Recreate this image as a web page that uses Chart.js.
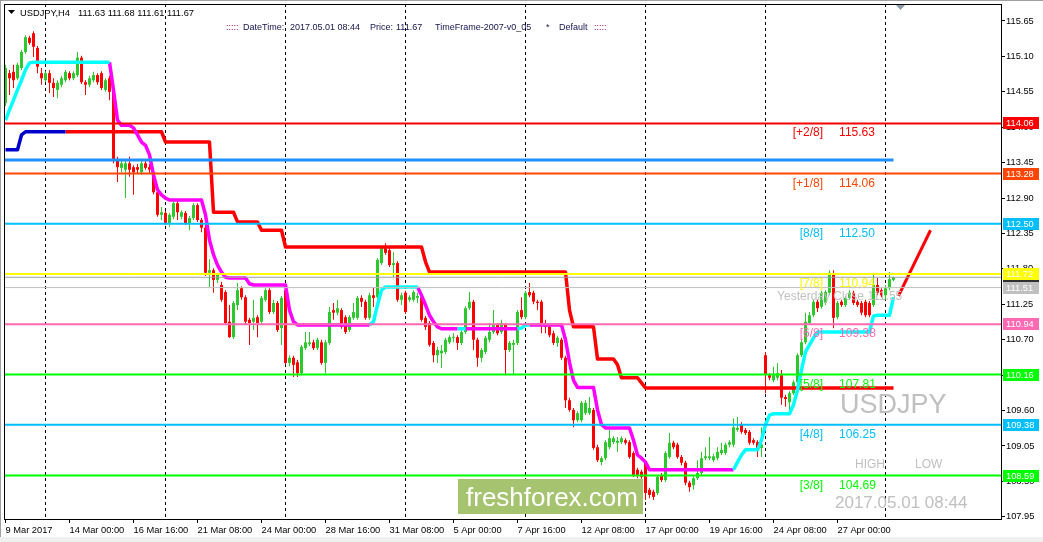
<!DOCTYPE html>
<html><head><meta charset="utf-8">
<script src="https://cdn.jsdelivr.net/npm/chart.js@4.4.1/dist/chart.umd.min.js"></script>
<style>html,body{margin:0;padding:0;background:#fff;overflow:hidden}canvas{display:block}</style>
</head><body>
<canvas id="c" width="1043" height="542"></canvas>
<script>
const _ = null;
// H4 candles USDJPY: [open, high, low, close], bar 0 = 9 Mar 2017 08:00
const ohlc = [
[114.38,114.97,114.33,114.92],[114.84,114.89,114.50,114.76],[114.86,114.97,114.61,114.73],[114.76,115.00,114.73,114.97],[114.92,115.20,114.89,115.17],
[115.17,115.43,115.14,115.40],[115.39,115.42,115.28,115.31],[115.46,115.49,115.09,115.25],[115.23,115.26,114.84,114.94],[114.84,114.92,114.66,114.76],
[114.73,114.87,114.70,114.84],[114.84,114.89,114.53,114.69],[114.69,114.76,114.47,114.61],[114.58,114.73,114.45,114.69],[114.66,114.80,114.62,114.76],
[114.73,114.89,114.70,114.86],[114.84,114.87,114.73,114.76],[114.76,114.87,114.73,114.84],[114.81,115.17,114.78,115.08],[115.08,115.11,114.67,114.70],
[114.70,114.73,114.50,114.66],[114.66,114.80,114.62,114.76],[114.73,114.86,114.70,114.81],[114.81,114.84,114.66,114.70],[114.84,114.87,114.58,114.61],
[114.58,114.76,114.55,114.73],[114.76,114.80,114.42,114.55],[114.58,114.61,113.44,113.49],[113.49,113.54,113.15,113.38],[113.37,113.49,113.30,113.44],
[113.34,113.49,112.90,113.44],[113.44,113.54,113.23,113.34],[113.38,113.41,112.95,113.30],[113.38,113.43,113.29,113.34],[113.30,113.49,113.26,113.44],
[113.44,113.49,113.34,113.37],[113.38,113.43,113.29,113.34],[113.30,113.34,112.96,112.99],[112.99,113.03,112.61,112.64],[112.64,112.76,112.56,112.68],
[112.67,112.70,112.48,112.51],[112.51,112.67,112.45,112.64],[112.61,112.87,112.57,112.82],[112.82,112.87,112.56,112.68],[112.61,112.71,112.57,112.68],
[112.67,112.70,112.48,112.51],[112.51,112.62,112.40,112.59],[112.59,112.82,112.56,112.79],[112.79,112.82,112.53,112.56],[112.56,112.59,112.37,112.44],
[112.44,112.48,111.69,111.74],[111.74,111.95,111.52,111.78],[111.78,111.81,111.43,111.63],[111.63,111.74,111.58,111.71],[111.55,111.60,111.29,111.32],
[111.44,111.47,110.93,110.96],[110.98,111.24,110.73,110.74],[110.74,111.30,110.71,111.27],[111.24,111.58,111.16,111.47],[111.50,111.53,111.32,111.36],
[111.36,111.39,110.94,110.98],[111.01,111.04,110.62,110.96],[110.98,111.32,110.85,111.04],[111.05,111.08,110.74,110.96],[110.98,111.38,110.94,111.35],
[111.32,111.50,111.29,111.47],[111.47,111.50,111.10,111.13],[111.13,111.32,111.10,111.27],[111.27,111.30,110.82,110.85],[110.88,111.38,110.62,111.35],
[111.47,111.52,110.31,110.34],[110.34,110.46,110.29,110.42],[110.42,110.45,110.12,110.31],[110.35,110.39,110.12,110.18],[110.18,110.62,110.15,110.59],
[110.57,110.82,110.54,110.66],[110.63,110.82,110.60,110.66],[110.66,110.70,110.54,110.57],[110.57,110.73,110.54,110.70],[110.66,110.70,110.31,110.34],
[110.34,110.70,110.18,110.66],[110.65,111.21,110.62,111.13],[111.16,111.27,111.01,111.12],[111.12,111.32,111.08,111.19],[111.16,111.19,110.87,110.90],
[111.05,111.08,110.79,110.82],[110.85,111.08,110.82,111.05],[111.04,111.27,111.01,111.13],[111.04,111.38,111.01,111.35],[111.35,111.39,111.21,111.29],
[111.29,111.32,111.01,111.04],[111.04,111.43,111.01,111.39],[111.39,111.52,111.21,111.35],[111.36,111.97,111.33,111.94],[111.89,112.16,111.86,112.12],
[112.12,112.20,112.02,112.05],[112.09,112.12,111.83,111.86],[111.86,112.06,111.67,111.89],[111.89,111.92,111.29,111.32],[111.32,111.43,111.24,111.39],
[111.43,111.46,111.10,111.13],[111.32,111.39,111.29,111.36],[111.32,111.47,111.29,111.44],[111.35,111.43,111.27,111.38],[111.36,111.39,110.98,111.01],
[111.04,111.07,110.85,110.90],[110.96,110.99,110.59,110.62],[110.65,110.68,110.35,110.46],[110.46,110.59,110.34,110.54],[110.49,110.62,110.26,110.53],
[110.51,110.73,110.48,110.70],[110.66,110.77,110.63,110.74],[110.73,110.80,110.66,110.74],[110.74,110.77,110.54,110.65],[110.65,110.85,110.62,110.82],
[110.82,111.22,110.79,111.19],[111.19,111.44,111.16,111.29],[111.29,111.32,110.54,110.70],[110.70,110.73,110.28,110.42],[110.42,110.57,110.35,110.54],
[110.51,110.76,110.48,110.73],[110.70,110.96,110.66,110.82],[110.82,111.16,110.79,110.93],[110.93,110.96,110.77,110.80],[110.82,111.01,110.79,110.96],
[110.93,110.96,110.15,110.54],[110.54,110.68,110.51,110.65],[110.62,110.70,110.15,110.65],[110.65,111.16,110.62,111.13],[111.16,111.36,111.02,111.05],
[111.05,111.46,111.02,111.43],[111.44,111.58,111.36,111.39],[111.43,111.46,111.25,111.29],[111.29,111.32,111.16,111.27],[111.29,111.32,110.80,110.96],
[110.93,111.01,110.80,110.90],[110.90,110.93,110.74,110.77],[110.80,110.84,110.62,110.65],[110.65,110.76,110.59,110.73],[110.70,110.73,110.39,110.42],
[110.42,110.45,109.64,109.76],[109.76,109.80,109.58,109.61],[109.61,109.64,109.34,109.45],[109.45,109.59,109.42,109.56],[109.45,109.75,109.42,109.72],
[109.56,109.76,109.53,109.72],[109.56,109.81,109.53,109.64],[109.61,109.64,108.99,109.02],[109.03,109.07,108.80,108.83],[108.80,108.89,108.75,108.86],
[108.86,109.14,108.83,109.11],[109.03,109.30,109.00,109.17],[109.11,109.20,109.08,109.17],[109.10,109.19,108.96,109.13],[109.11,109.20,109.08,109.17],
[109.14,109.17,109.07,109.10],[109.11,109.14,108.85,108.88],[108.94,108.97,108.57,108.60],[108.68,108.71,108.55,108.60],[108.65,108.68,108.54,108.57],
[108.79,108.82,108.21,108.32],[108.37,108.40,108.24,108.29],[108.34,108.37,108.21,108.26],[108.32,108.60,108.29,108.57],[108.60,108.63,108.49,108.52],
[108.52,108.97,108.49,108.94],[108.88,109.25,108.85,109.10],[109.10,109.13,109.00,109.03],[109.07,109.10,108.85,108.88],[108.88,108.91,108.75,108.79],
[108.79,108.82,108.44,108.48],[108.48,108.51,108.34,108.41],[108.44,108.58,108.37,108.55],[108.55,108.83,108.52,108.63],[108.63,108.96,108.60,108.86],
[108.86,109.03,108.83,108.89],[108.86,109.19,108.83,108.89],[108.83,108.93,108.80,108.89],[108.86,109.03,108.83,108.96],[108.94,109.10,108.91,108.99],
[108.94,109.10,108.91,109.07],[109.07,109.14,109.03,109.11],[109.07,109.48,109.03,109.34],[109.30,109.50,109.27,109.33],[109.38,109.42,109.24,109.27],
[109.30,109.33,109.22,109.25],[109.27,109.30,109.07,109.10],[109.14,109.17,109.07,109.10],[109.11,109.14,108.88,109.02],[109.02,109.34,108.88,109.07],
[110.46,110.51,109.87,110.15],[110.15,110.18,110.07,110.11],[110.07,110.28,110.04,110.15],[110.11,110.34,110.07,110.18],[110.15,110.23,109.69,109.80],
[109.81,109.84,109.66,109.78],[109.73,109.90,109.61,109.87],[109.87,110.07,109.84,110.04],[110.04,110.49,110.01,110.46],[110.46,110.70,110.43,110.66],
[110.66,111.12,110.63,110.98],[110.96,111.13,110.93,111.08],[111.08,111.32,111.05,111.29],[111.29,111.32,111.13,111.19],[111.21,111.46,111.18,111.43],
[111.27,111.47,111.24,111.44],[111.43,111.78,111.39,111.74],[111.71,111.78,110.88,111.04],[111.05,111.30,111.02,111.27],[111.29,111.32,111.21,111.24],
[111.24,111.38,111.21,111.35],[111.35,111.47,111.32,111.43],[111.43,111.46,111.24,111.27],[111.29,111.32,111.21,111.24],[111.27,111.30,111.08,111.12],
[111.29,111.32,111.05,111.08],[111.27,111.30,111.05,111.08],[111.24,111.71,111.21,111.55],[111.55,111.66,111.39,111.43],[111.47,111.50,111.36,111.39],
[111.39,111.55,111.32,111.50],[111.50,111.75,111.47,111.64],[111.63,111.68,111.61,111.67]
];

// trailing stop line (cyan = up, magenta = down), one value per bar
const trendUp = [
114.11,114.27,114.42,114.58,114.73,114.89,115.00,115.01,115.01,115.01,
115.01,115.01,115.01,115.01,115.01,115.01,115.01,115.01,115.01,115.01,
115.01,115.01,115.01,115.01,115.01,115.01,115.01,_,_,_,
_,_,_,_,_,_,_,_,_,_, _,_,_,_,_,_,_,_,_,_, _,_,_,_,_,_,_,_,_,_,
_,_,_,_,_,_,_,_,_,_, _,_,_,_,_,_,_,_,_,_, _,_,_,_,_,_,_,_,_,_,
_,110.93,110.98,111.24,111.47,111.52,111.52,111.52,111.52,111.52,
111.52,111.52,111.52,111.52,_,_,_,_,_,_,
_,_,_,110.87,110.87,110.87,_,_,_,_,
_,_,_,_,_,_,_,_,110.87,110.88,
110.93,110.93,_,_,_,_,_,_,_,_,
_,_,_,_,_,_,_,_,_,_, _,_,_,_,_,_,_,_,_,_, _,_,_,_,_,_,_,_,_,_, _,_,_,_,_,_,_,_,_,_,
_,_,108.68,108.80,108.91,108.99,108.99,108.99,108.99,109.14,
109.38,109.53,109.55,109.55,109.55,109.55,109.55,109.69,109.92,110.23,
110.51,110.62,110.73,110.82,110.82,110.82,110.82,110.82,110.82,110.82,
110.82,110.82,110.82,110.82,110.82,110.82,110.82,111.07,111.08,111.08,
111.08,111.08,111.36
];
const trendDown = [
_,_,_,_,_,_,_,_,_,_, _,_,_,_,_,_,_,_,_,_,
_,_,_,_,_,_,115.01,114.58,114.11,114.03,
114.03,114.03,113.99,113.88,113.77,113.72,113.57,113.26,113.03,112.95,
112.90,112.87,112.87,112.87,112.87,112.87,112.87,112.87,112.87,112.87,
112.64,112.25,112.02,111.86,111.75,111.67,111.66,111.66,111.66,111.66,
111.66,111.57,111.55,111.55,111.55,111.55,111.55,111.55,111.55,111.55,
111.55,111.16,110.98,110.93,110.93,110.93,110.93,110.93,110.93,110.93,
110.93,110.93,110.93,110.93,110.93,110.93,110.93,110.93,110.93,110.93,
110.93,110.93,_,_,_,_,_,_,_,_,
_,_,_,111.52,111.39,111.24,111.08,110.98,110.90,110.87,
110.87,110.87,110.87,110.87,_,110.87,110.87,110.87,110.87,110.87,
110.87,110.87,110.87,110.87,110.87,110.87,110.87,110.87,110.87,_,
_,110.93,110.93,110.93,110.93,110.93,110.93,110.93,110.93,110.93,
110.70,110.35,110.07,109.96,109.96,109.96,109.96,109.96,109.61,109.38,
109.33,109.33,109.33,109.33,109.33,109.33,109.33,109.14,108.91,108.86,
108.80,108.68,108.68,108.68,108.68,108.68,108.68,108.68,108.68,108.68,
108.68,108.68,108.68,108.68,108.68,108.68,108.68,108.68,108.68,108.68,
108.68,108.68,108.68,_,_,_,_,_,_,_,
_,_,_,_,_,_,_,_,_,_, _,_,_,_,_,_,_,_,_,_, _,_,_,_,_,_,_,_,_,_, _,_,_
];
// step channel line: dark blue part then red part
const channelBlue = [
113.65,113.65,113.65,113.65,113.88,113.93,113.93,113.93,113.93,113.93,
113.93,113.93,113.93,113.93,113.93,113.93
];
const channelRed = [
_,_,_,_,_,_,_,_,_,_,
_,_,_,_,_,113.93,113.93,113.93,113.93,113.93,
113.93,113.93,113.93,113.93,113.93,113.93,113.93,113.93,113.93,113.93,
113.93,113.93,113.93,113.93,113.93,113.93,113.93,113.93,113.93,113.93,
113.77,113.77,113.77,113.77,113.77,113.77,113.77,113.77,113.77,113.77,
113.77,113.77,112.68,112.68,112.68,112.68,112.68,112.68,112.53,112.53,
112.53,112.53,112.53,112.53,112.40,112.40,112.40,112.40,112.40,112.40,
112.14,112.14,112.14,112.14,112.14,112.14,112.14,112.14,112.14,112.14,
112.14,112.14,112.14,112.14,112.14,112.14,112.14,112.14,112.14,112.14,
112.14,112.14,112.14,112.14,112.14,112.14,112.14,112.14,112.14,112.14,
112.14,112.14,112.14,112.14,112.14,111.91,111.75,111.75,111.75,111.75,
111.75,111.75,111.75,111.75,111.75,111.75,111.75,111.75,111.75,111.75,
111.75,111.75,111.75,111.75,111.75,111.75,111.75,111.75,111.75,111.75,
111.75,111.75,111.75,111.75,111.75,111.75,111.75,111.75,111.75,111.75,
111.75,111.16,110.90,110.90,110.90,110.90,110.90,110.90,110.40,110.40,
110.40,110.40,110.40,110.31,110.11,110.11,110.11,110.11,110.11,110.03,
109.95,109.95,109.95,109.95,109.95,109.95,109.95,109.95,109.95,109.95,
109.95,109.95,109.95,109.95,109.95,109.95,109.95,109.95,109.95,109.95,
109.95,109.95,109.95,109.95,109.95,109.95,109.95,109.95,109.95,109.95,
109.95,109.95,109.95,109.95,109.95,109.95,109.95,109.95,109.95,109.95,
109.95,109.95,109.95,109.95,109.95,109.95,109.95,109.95,109.95,109.95,
109.95,109.95,109.95,109.95,109.95,109.95,109.95,109.95,109.95,109.95,
109.95,109.95,109.95
];
// projection ray [bar, price]
const projection = [[223.25, 111.38], [231.25, 112.40]];

// Murrey math levels
const levelPrices = [114.06, 113.28, 112.50, 111.72, 110.94, 110.16, 109.38, 108.59];
const levelColors = ['#FF0000', '#FF4500', '#00BFFF', '#FFFF00', '#FF69B4', '#00FF00', '#00BFFF', '#00FF00'];
const levelTags = ['[+2/8]', '[+1/8]', '[8/8]', '[7/8]', '[6/8]', '[5/8]', '[4/8]', '[3/8]'];
const levelTagValues = ['115.63', '114.06', '112.50', '110.94', '109.38', '107.81', '106.25', '104.69'];
const blueLevel = 113.49;
const yesterdayLine = 111.51;
const yesterdayText = '111.55';
const bidPrice = 111.67;
const headerOHLC = ['111.63', '111.68', '111.61', '111.67'];

const xTickBars = [0, 16, 32, 48, 64, 80, 96, 112, 128, 144, 160, 176, 192, 208];
const xTickLabels = ['9 Mar 2017', '14 Mar 00:00', '16 Mar 16:00', '21 Mar 08:00', '24 Mar 00:00', '28 Mar 16:00', '31 Mar 08:00', '5 Apr 00:00', '7 Apr 16:00', '12 Apr 08:00', '17 Apr 00:00', '19 Apr 16:00', '24 Apr 08:00', '27 Apr 00:00'];
const yTicks = [107.95, 108.50, 109.05, 109.60, 110.15, 110.70, 111.25, 111.80, 112.35, 112.90, 113.45, 114.00, 114.55, 115.10, 115.65];
const weekStartBars = [10, 40, 70, 100, 130, 160, 190, 220];

const FONT = "'Liberation Sans', Arial, sans-serif";
const AX = 9.3;
const X_MIN = -0.375, X_MAX = -0.375 + 997 / 4;
const Y_MIN = 107.916, Y_MAX = 115.914;
const BULL = '#2DC82D', BEAR = '#FF0000';

const candleColors = ohlc.map(r => r[3] >= r[0] ? BULL : BEAR);
const series = arr => arr.map((v, i) => ({x: i, y: v}));
const lineDs = (data, color, width, order) => ({
  type: 'line', data, borderColor: color, borderWidth: width, pointRadius: 0,
  tension: 0, fill: false, spanGaps: false, order, borderCapStyle: 'butt', borderJoinStyle: 'round'
});
const hline = (p, color, width, x0, x1, order) => lineDs([{x: x0, y: p}, {x: x1, y: p}], color, width, order);

const datasets = [
  { type: 'bar', data: ohlc.map((r, i) => ({x: i, y: [r[2], r[1]]})), backgroundColor: candleColors,
    barThickness: 1, grouped: false, borderWidth: 0, inflateAmount: 0, order: 40 },
  { type: 'bar', data: ohlc.map((r, i) => ({x: i, y: [r[0], r[3]]})), backgroundColor: candleColors,
    barThickness: 3, grouped: false, borderWidth: 0, inflateAmount: 0, minBarLength: 1, order: 39 },
  lineDs(series(channelBlue), '#0000CD', 3.5, 30),
  lineDs(series(channelRed), '#FF0000', 3.5, 30),
  lineDs(series(trendUp), '#00FFFF', 3.5, 29),
  lineDs(series(trendDown), '#FF00FF', 3.5, 29),
  lineDs(projection.map(p => ({x: p[0], y: p[1]})), '#FF0000', 3, 28),
  hline(bidPrice, '#A0A0A0', 1, X_MIN, X_MAX, 21),
  hline(yesterdayLine, '#C0C0C0', 1, X_MIN, X_MAX, 21),
  hline(blueLevel, '#1E90FF', 3, X_MIN, ohlc.length - 1, 20),
  ...levelPrices.map((p, i) => hline(p, levelColors[i], 2, X_MIN, X_MAX, 20))
];

const overlay = {
  id: 'overlay',
  beforeDraw(chart) {
    const {ctx, width, height} = chart;
    ctx.save();
    ctx.fillStyle = '#fff'; ctx.fillRect(0, 0, width, height);
    ctx.fillStyle = '#F0F0F0'; ctx.fillRect(0, 537, width, height - 537);
    ctx.fillStyle = '#A0A0A0'; ctx.fillRect(0, 0, width, 1); ctx.fillRect(0, 0, 1, 537);
    ctx.restore();
  },
  beforeDatasetsDraw(chart) {
    const {ctx, chartArea: a, scales: {x}} = chart;
    ctx.save();
    ctx.strokeStyle = '#000'; ctx.lineWidth = 1; ctx.setLineDash([3, 3]);
    weekStartBars.forEach(b => {
      const px = Math.floor(x.getPixelForValue(b)) + 0.5;
      ctx.beginPath(); ctx.moveTo(px, a.top); ctx.lineTo(px, a.bottom); ctx.stroke();
    });
    ctx.restore();
  },
  afterDatasetsDraw(chart) {
    const {ctx, chartArea: a, scales: {x, y}} = chart;
    ctx.save();
    ctx.textBaseline = 'alphabetic';
    ctx.font = `12px ${FONT}`;
    levelPrices.forEach((p, i) => {
      const py = y.getPixelForValue(p) + 13;
      ctx.fillStyle = levelColors[i];
      ctx.textAlign = 'right'; ctx.fillText(levelTags[i], x.getPixelForValue(204.4), py);
      ctx.textAlign = 'left'; ctx.fillText(levelTagValues[i], x.getPixelForValue(208.4), py);
    });
    ctx.fillStyle = '#C0C0C0'; ctx.textAlign = 'left';
    ctx.fillText('Yesterday Close ' + yesterdayText, x.getPixelForValue(192.9), y.getPixelForValue(yesterdayLine) + 12);
    ctx.fillText('HIGH', 855, 468);
    ctx.fillText('LOW', 915, 468);
    ctx.font = `27px ${FONT}`;
    ctx.fillText('USDJPY', 840, 413);
    ctx.font = `17px ${FONT}`;
    ctx.fillText('2017.05.01 08:44', 835, 508);
    // logo
    ctx.fillStyle = '#A6C36F'; ctx.fillRect(458, 479, 185, 35);
    ctx.fillStyle = '#FFFFFF'; ctx.font = `26px ${FONT}`;
    ctx.fillText('freshforex.com', 466, 506);
    // frame left/top
    ctx.fillStyle = '#000';
    ctx.fillRect(a.left, a.top, a.right - a.left, 1);
    ctx.fillRect(a.left, a.top, 1, a.bottom - a.top);
    ctx.restore();
  },
  afterDraw(chart) {
    const {ctx, chartArea: a, scales: {y}} = chart;
    ctx.save();
    const bx = a.right + 2;
    const box = (p, bg, label) => {
      const py = Math.round(y.getPixelForValue(p));
      ctx.fillStyle = bg; ctx.fillRect(bx, py - 6, 36, 12);
      if (label) {
        ctx.fillStyle = '#FFFFFF'; ctx.font = `${AX}px ${FONT}`;
        ctx.textAlign = 'left'; ctx.textBaseline = 'middle';
        ctx.fillText(label, bx + 3, py + 0.5);
      }
    };
    box(bidPrice, '#303030', bidPrice.toFixed(2));
    levelPrices.forEach((p, i) => box(p, levelColors[i], p.toFixed(2)));
    box(yesterdayLine, '#C0C0C0', yesterdayLine.toFixed(2));
    // header
    ctx.fillStyle = '#000';
    ctx.beginPath(); ctx.moveTo(8, 10); ctx.lineTo(15, 10); ctx.lineTo(11.5, 14); ctx.closePath(); ctx.fill();
    ctx.font = `${AX}px ${FONT}`; ctx.textAlign = 'left'; ctx.textBaseline = 'alphabetic';
    ctx.fillText('USDJPY,H4', 20, 16);
    ctx.fillText(headerOHLC.join(' '), 78, 16);
    ctx.font = `9px ${FONT}`;
    ctx.fillStyle = '#800080'; ctx.fillText(':::::', 226, 30); ctx.fillText(':::::', 594, 30);
    ctx.fillStyle = '#141450';
    ctx.fillText('DateTime:', 243, 30);
    ctx.fillText('2017.05.01 08:44', 290, 30);
    ctx.fillText('Price:', 370, 30);
    ctx.fillText(bidPrice.toFixed(2), 396, 30);
    ctx.fillText('TimeFrame-2007-v0_05', 435, 30);
    ctx.fillText('*', 546, 30);
    ctx.fillText('Default', 559, 30);
    // chart shift marker
    ctx.fillStyle = '#8A98A8';
    ctx.beginPath(); ctx.moveTo(896, 5); ctx.lineTo(905, 5); ctx.lineTo(900.5, 10); ctx.closePath(); ctx.fill();
    ctx.restore();
  }
};

new Chart(document.getElementById('c'), {
  type: 'bar',
  data: { datasets },
  options: {
    responsive: false, animation: false, devicePixelRatio: 1,
    layout: { padding: { left: 4, top: 4, right: 0, bottom: 0 } },
    plugins: { legend: { display: false }, tooltip: { enabled: false } },
    events: [],
    scales: {
      x: {
        type: 'linear', min: X_MIN, max: X_MAX, offset: false,
        grid: { drawOnChartArea: false, drawTicks: true, tickLength: 4, color: '#000', offset: false },
        border: { display: true, color: '#000', width: 1 },
        ticks: { autoSkip: false, maxRotation: 0, minRotation: 0, align: 'start', padding: 2, color: '#000',
          font: { family: FONT, size: AX },
          callback: v => { const k = xTickBars.indexOf(v); return k >= 0 ? xTickLabels[k] : ''; } },
        afterBuildTicks: s => { s.ticks = xTickBars.map(v => ({value: v})); },
        afterFit: s => { s.height = 23; s.paddingLeft = 0; s.paddingRight = 0; }
      },
      y: {
        position: 'right', min: Y_MIN, max: Y_MAX,
        grid: { drawOnChartArea: false, drawTicks: true, tickLength: 4, color: '#000' },
        border: { display: true, color: '#000', width: 1 },
        ticks: { color: '#000', padding: 1, font: { family: FONT, size: AX }, callback: v => v.toFixed(2) },
        afterBuildTicks: s => { s.ticks = yTicks.map(v => ({value: v})); },
        afterFit: s => { s.width = 42; s.paddingTop = 0; s.paddingBottom = 0; }
      }
    }
  },
  plugins: [overlay]
});
</script>
</body></html>
